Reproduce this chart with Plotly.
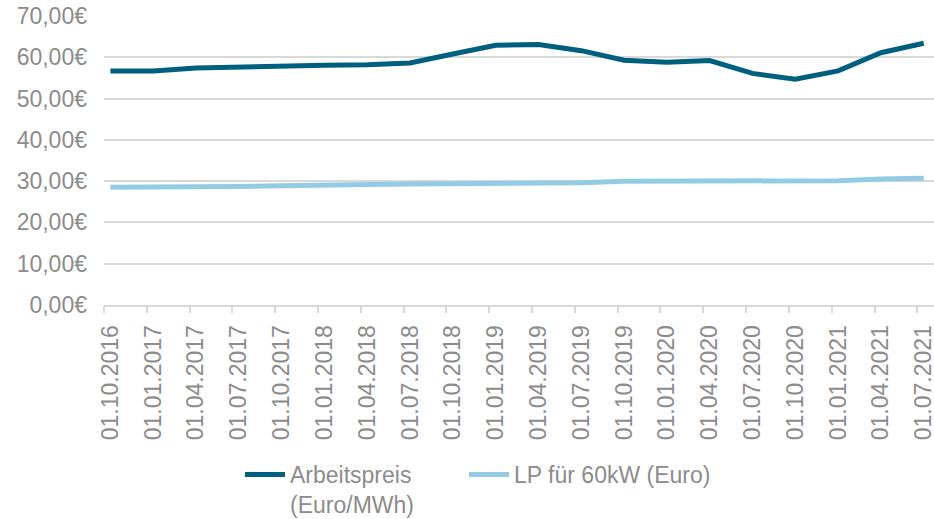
import plotly.graph_objects as go

dates = ["01.10.2016", "01.01.2017", "01.04.2017", "01.07.2017", "01.10.2017",
         "01.01.2018", "01.04.2018", "01.07.2018", "01.10.2018", "01.01.2019",
         "01.04.2019", "01.07.2019", "01.10.2019", "01.01.2020", "01.04.2020",
         "01.07.2020", "01.10.2020", "01.01.2021", "01.04.2021", "01.07.2021"]
arbeitspreis = [56.7, 56.7, 57.4, 57.7, 57.9, 58.1, 58.2, 58.6, 60.8, 62.9,
                63.1, 61.6, 59.3, 58.8, 59.2, 56.1, 54.7, 56.7, 61.1, 63.4]
lp_60kw = [28.5, 28.5, 28.6, 28.7, 28.9, 29.2, 29.2, 29.3, 29.3, 29.4,
           29.5, 29.6, 30.0, 30.0, 30.1, 30.1, 30.1, 30.1, 30.5, 30.7]
y_ticks = [0, 10, 20, 30, 40, 50, 60, 70]
y_labels = ["0,00€", "10,00€", "20,00€", "30,00€", "40,00€", "50,00€", "60,00€", "70,00€"]

grey = "#8c8c8c"
font = "Liberation Sans, Arial, sans-serif"
fs = 23
W, H = 934, 519
x_range = [-0.15, 19.24]
tick_shift = 0.15  # tick marks sit slightly left of each point

fig = go.Figure()
fig.add_trace(go.Scatter(x=dates, y=arbeitspreis, mode="lines",
                         name="Arbeitspreis<br>(Euro/MWh)", legend="legend",
                         line=dict(color="#005f7f", width=5)))
fig.add_trace(go.Scatter(x=dates, y=lp_60kw, mode="lines",
                         name="LP für 60kW (Euro)", legend="legend2",
                         line=dict(color="#94cbe4", width=5)))
# empty helper trace so the tick-mark axis is drawn
fig.add_trace(go.Scatter(x=[None], y=[None], xaxis="x2", mode="lines",
                         showlegend=False, hoverinfo="skip"))

legend_style = dict(orientation="h", xanchor="left", xref="container",
                    y=1 - 453 / H, yanchor="top", yref="container",
                    valign="top", font=dict(family=font, size=fs, color=grey),
                    itemwidth=40, bgcolor="rgba(0,0,0,0)")

fig.update_layout(
    width=W, height=H,
    margin=dict(l=104, r=0, t=16, b=214, autoexpand=False),
    paper_bgcolor="white", plot_bgcolor="white",
    font=dict(family=font, size=fs, color=grey),
    showlegend=True,
    legend=dict(x=240 / W, **legend_style),
    legend2=dict(x=464 / W, **legend_style),
    xaxis=dict(type="category", range=x_range, tickangle=-90,
               automargin=False,
               showgrid=False, showline=True, linecolor="#d9d9d9", linewidth=2,
               ticks="", ticklabelstandoff=9,
               tickfont=dict(family=font, size=fs, color=grey)),
    xaxis2=dict(type="linear", overlaying="x", anchor="y", side="bottom",
                range=x_range, automargin=False,
                tickvals=[i - tick_shift for i in range(len(dates))],
                showticklabels=False, showgrid=False, showline=False,
                zeroline=False, ticks="outside", tickcolor="#d9d9d9",
                ticklen=7, tickwidth=1.5),
    yaxis=dict(range=[0, 70], tickvals=y_ticks, ticktext=y_labels,
               automargin=False, ticklabeloverflow="allow",
               showgrid=True, gridcolor="#d9d9d9", gridwidth=2,
               zeroline=False, showline=False, ticklabelstandoff=16,
               tickfont=dict(family=font, size=fs, color=grey)),
)

fig.write_html("out.html", config={"displayModeBar": False},
               post_script="document.body.style.margin='0';"
                           "document.documentElement.style.margin='0';")
